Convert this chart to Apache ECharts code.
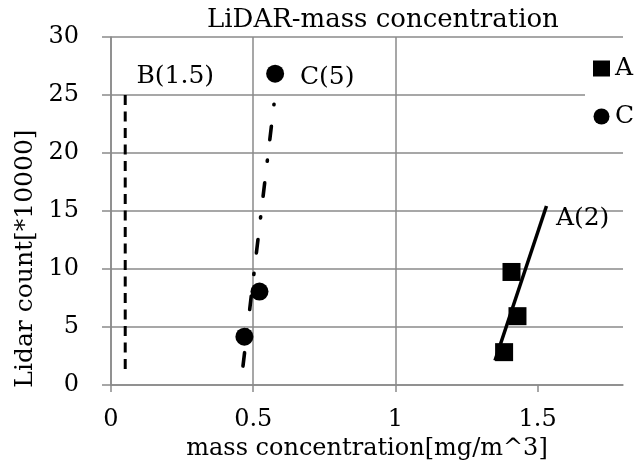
<!DOCTYPE html>
<html><head><meta charset="utf-8">
<script src="https://cdn.jsdelivr.net/npm/echarts@6/dist/echarts.min.js"></script>
<style>html,body{margin:0;padding:0;background:#fff}#c{width:638px;height:466px}</style>
</head><body><div id="c"></div>
<script>
// ---- data ----
const xTickValues = [0, 0.5, 1, 1.5];
const seriesA_x = [1.382, 1.408, 1.429];
const seriesA_y = [2.84, 9.75, 5.94];
const seriesC_x = [0.469, 0.522, 0.577];
const seriesC_y = [4.17, 8.06, 26.84];
const trendA_x = [1.350, 1.531];
const trendA_y = [2.12, 15.44];
const trendC_x = [0.464, 0.573];
const trendC_y = [1.64, 24.2];
const lineB_x = [0.05, 0.05];
const lineB_y = [25, 1.05];
const noteText = ['B(1.5)', 'C(5)', 'A(2)'];
const noteX = [0.226, 0.760, 1.658];
const noteY = [26.56, 26.5, 14.33];

const FONT = 'DejaVu Serif';
const GRID = '#8a8a8a';
const pairs = (xs, ys) => xs.map((x, i) => [x, ys[i]]);

const chart = echarts.init(document.getElementById('c'), null, {renderer: 'canvas'});
chart.setOption({
  animation: false,
  backgroundColor: '#fff',
  title: {
    text: 'LiDAR-mass concentration',
    left: 207, top: 7, padding: 0,
    textStyle: {fontFamily: FONT, fontSize: 26, fontWeight: 'normal', color: '#000'}
  },
  legend: {
    orient: 'vertical', left: 585, top: 46,
    padding: [10, 3, 10, 8], itemGap: 23, itemWidth: 17, itemHeight: 16,
    backgroundColor: '#fff',
    data: [{name: 'A', icon: 'rect'}, {name: 'C', icon: 'circle'}],
    textStyle: {fontFamily: FONT, fontSize: 25, color: '#000'}
  },
  grid: {left: 111, right: 15, top: 37, bottom: 74, containLabel: false},
  xAxis: {
    type: 'value', min: 0, max: 1.8, interval: 0.5,
    name: 'mass concentration[mg/m^3]', nameLocation: 'middle', nameGap: 47,
    nameTextStyle: {fontFamily: FONT, fontSize: 24, color: '#000'},
    axisLine: {show: true, lineStyle: {color: GRID, width: 1.5}},
    axisTick: {show: true, length: 7, lineStyle: {color: GRID, width: 1.5}, customValues: xTickValues},
    axisLabel: {margin: 23, fontFamily: FONT, fontSize: 24, color: '#000', customValues: xTickValues},
    splitLine: {show: true, showMaxLine: false, lineStyle: {color: GRID, width: 1.5}}
  },
  yAxis: {
    type: 'value', min: 0, max: 30, interval: 5,
    name: 'Lidar count[*10000]', nameLocation: 'middle', nameGap: 73,
    nameTextStyle: {fontFamily: FONT, fontSize: 25, color: '#000', padding: [0, 95, 0, 0]},
    axisLine: {show: true, lineStyle: {color: GRID, width: 1.5}},
    axisTick: {show: true, length: 9, lineStyle: {color: GRID, width: 1.5}},
    axisLabel: {margin: 32, fontFamily: FONT, fontSize: 24, color: '#000'},
    splitLine: {show: true, lineStyle: {color: GRID, width: 1.5}}
  },
  series: [
    {name: 'B', type: 'line', data: pairs(lineB_x, lineB_y), showSymbol: false, z: 2,
     lineStyle: {color: '#000', width: 3, type: [10, 6.5], opacity: 1}},
    {name: 'trendA', type: 'line', data: pairs(trendA_x, trendA_y), showSymbol: false, z: 2,
     lineStyle: {color: '#000', width: 3.5, opacity: 1}},
    {name: 'trendC', type: 'line', data: pairs(trendC_x, trendC_y), showSymbol: false, z: 2,
     lineStyle: {color: '#000', width: 3.6, type: [13.5, 21.7, 1.2, 20.6], cap: 'round', opacity: 1}},
    {name: 'A', type: 'scatter', data: pairs(seriesA_x, seriesA_y), symbol: 'rect', symbolSize: 18, z: 3,
     itemStyle: {color: '#000', opacity: 1}},
    {name: 'C', type: 'scatter', data: pairs(seriesC_x, seriesC_y), symbol: 'circle', symbolSize: 18, z: 3,
     itemStyle: {color: '#000', opacity: 1}},
    {name: 'notes', type: 'scatter', symbolSize: 0, z: 4,
     itemStyle: {color: '#000', opacity: 1},
     data: noteText.map((t, i) => ({name: t, value: [noteX[i], noteY[i]]})),
     label: {show: true, position: 'inside', formatter: p => p.name, opacity: 1,
             fontFamily: FONT, fontSize: 25, color: '#000'}}
  ]
});
</script>
</body></html>
